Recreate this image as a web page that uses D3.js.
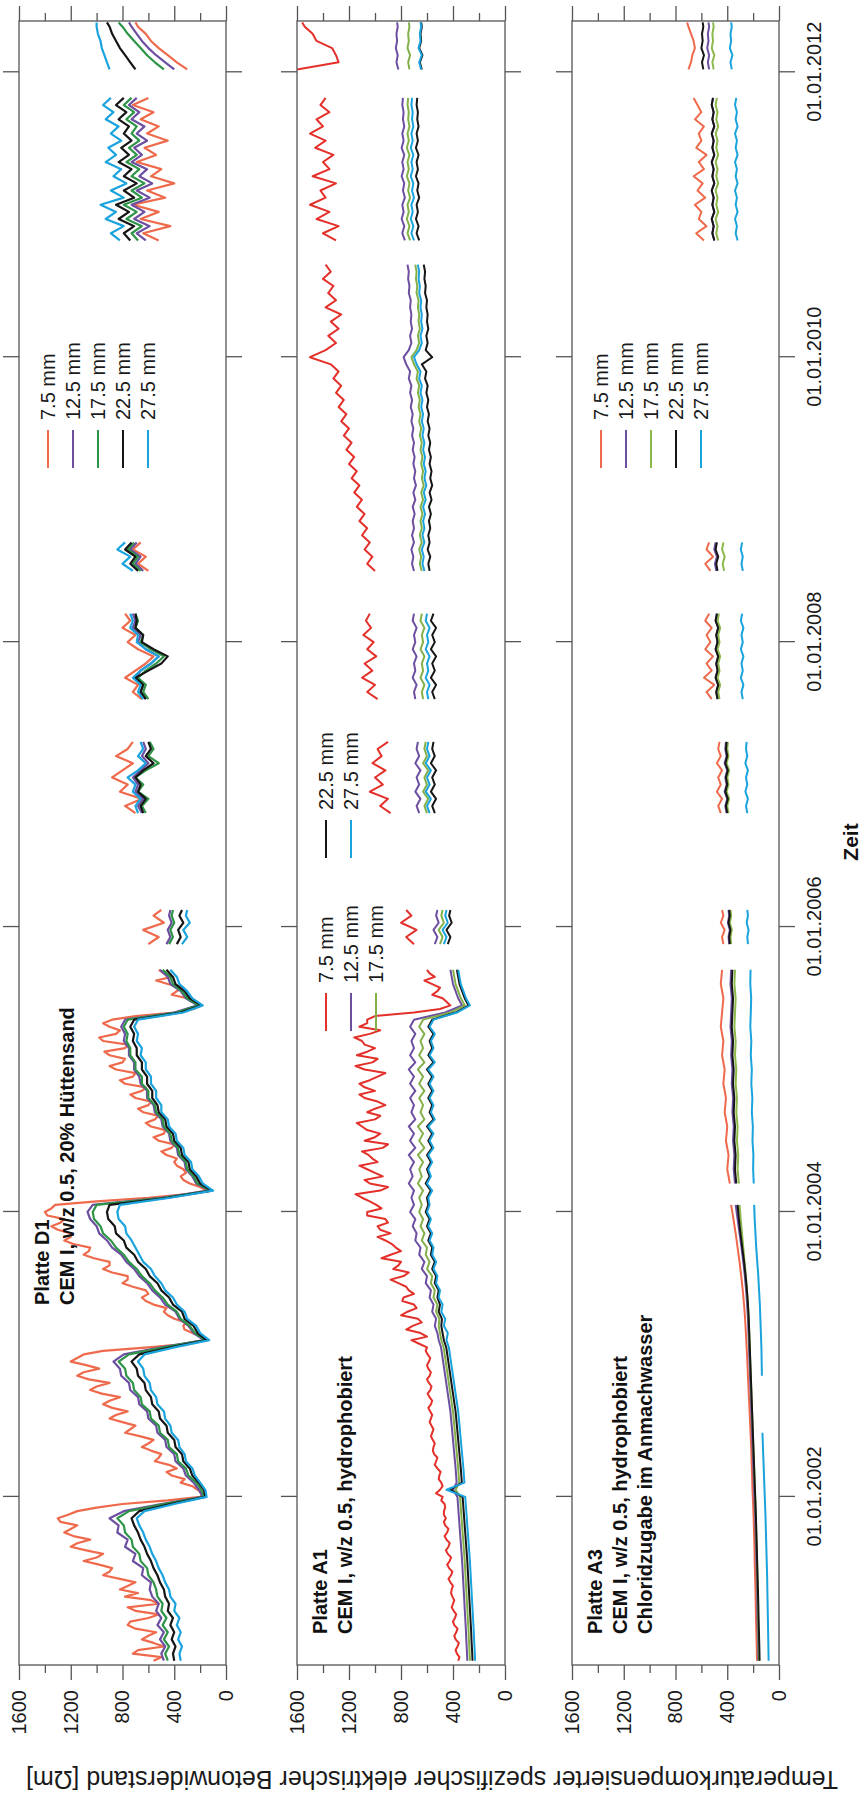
<!DOCTYPE html>
<html><head><meta charset="utf-8">
<script src="https://cdn.jsdelivr.net/npm/d3@7"></script>
<style>body{margin:0;background:#fff}svg text{font-family:Arial,"Liberation Sans",sans-serif}</style>
</head><body><svg id="c" width="862" height="1796"></svg>
<script>
// ---------- tick labels / categories ----------
const valueTicks = [0, 400, 800, 1200, 1600];
const valueMinor = [200, 600, 1000, 1400];
const dateTicks = [2002, 2004, 2006, 2008, 2010, 2012];
const seriesNames = ['7.5 mm', '12.5 mm', '17.5 mm', '22.5 mm', '27.5 mm'];

// ---------- time samples (decimal years) ----------
const T_A = [2000.85,2000.9,2000.95,2001,2001.05,2001.1,2001.15,2001.2,2001.25,2001.3,
2001.35,2001.4,2001.45,2001.5,2001.55,2001.6,2001.65,2001.7,2001.75,2001.8,
2001.85,2001.9,2001.95,2002,2002.05,2002.1,2002.15,2002.2,2002.25,2002.3,
2002.35,2002.4,2002.45,2002.5,2002.55,2002.6,2002.65,2002.7,2002.75,2002.8,
2002.85,2002.9,2002.95,2003,2003.05,2003.1,2003.15,2003.2,2003.25,2003.3,
2003.35,2003.4,2003.45,2003.5,2003.55,2003.6,2003.65,2003.7,2003.75,2003.8,
2003.85,2003.9,2003.95,2004,2004.05,2004.1,2004.15,2004.2,2004.25,2004.3,
2004.35,2004.4,2004.45,2004.5,2004.55,2004.6,2004.65,2004.7,2004.75,2004.8,
2004.85,2004.9,2004.95,2005,2005.05,2005.1,2005.15,2005.2,2005.25,2005.3,
2005.35,2005.4,2005.45,2005.5,2005.55,2005.6,2005.65,2005.7];
// denser sampling for the two noisiest (7.5 mm) records
const T_AD = [2000.85,2000.875,2000.9,2000.925,2000.95,2000.975,2001,2001.025,2001.05,2001.075,2001.1,2001.125,2001.15,2001.175,2001.2,2001.225,2001.25,2001.275,2001.3,2001.325,
2001.35,2001.375,2001.4,2001.425,2001.45,2001.475,2001.5,2001.525,2001.55,2001.575,2001.6,2001.625,2001.65,2001.675,2001.7,2001.725,2001.75,2001.775,2001.8,2001.825,
2001.85,2001.875,2001.9,2001.925,2001.95,2001.975,2002,2002.025,2002.05,2002.075,2002.1,2002.125,2002.15,2002.175,2002.2,2002.225,2002.25,2002.275,2002.3,2002.325,
2002.35,2002.375,2002.4,2002.425,2002.45,2002.475,2002.5,2002.525,2002.55,2002.575,2002.6,2002.625,2002.65,2002.675,2002.7,2002.725,2002.75,2002.775,2002.8,2002.825,
2002.85,2002.875,2002.9,2002.925,2002.95,2002.975,2003,2003.025,2003.05,2003.075,2003.1,2003.125,2003.15,2003.175,2003.2,2003.225,2003.25,2003.275,2003.3,2003.325,
2003.35,2003.375,2003.4,2003.425,2003.45,2003.475,2003.5,2003.525,2003.55,2003.575,2003.6,2003.625,2003.65,2003.675,2003.7,2003.725,2003.75,2003.775,2003.8,2003.825,
2003.85,2003.875,2003.9,2003.925,2003.95,2003.975,2004,2004.025,2004.05,2004.075,2004.1,2004.125,2004.15,2004.175,2004.2,2004.225,2004.25,2004.275,2004.3,2004.325,
2004.35,2004.375,2004.4,2004.425,2004.45,2004.475,2004.5,2004.525,2004.55,2004.575,2004.6,2004.625,2004.65,2004.675,2004.7,2004.725,2004.75,2004.775,2004.8,2004.825,
2004.85,2004.875,2004.9,2004.925,2004.95,2004.975,2005,2005.025,2005.05,2005.075,2005.1,2005.125,2005.15,2005.175,2005.2,2005.225,2005.25,2005.275,2005.3,2005.325,
2005.35,2005.375,2005.4,2005.425,2005.45,2005.475,2005.5,2005.525,2005.55,2005.575,2005.6,2005.625,2005.65,2005.675,2005.7];
const T_B = [2005.88,2005.93,2005.98,2006.03,2006.08,2006.12];
const T_C = [2006.8,2006.85,2006.9,2006.95,2007,2007.05,2007.1,2007.15,2007.2,2007.25,2007.3];
const T_D = [2007.6,2007.65,2007.7,2007.75,2007.8,2007.85,2007.9,2007.95,2008,2008.05,2008.1,2008.15,2008.2];
const T_E = [2008.5,2008.55,2008.6,2008.65,2008.7];
const T_E2 = [2008.5,2008.55,2008.6,2008.65,2008.7,2008.75,2008.8,2008.85,2008.9,2008.95,
2009,2009.05,2009.1,2009.15,2009.2,2009.25,2009.3,2009.35,2009.4,2009.45,
2009.5,2009.55,2009.6,2009.65,2009.7,2009.75,2009.8,2009.85,2009.9,2009.95,
2010,2010.05,2010.1,2010.15,2010.2,2010.25,2010.3,2010.35,2010.4,2010.45,
2010.5,2010.55,2010.6,2010.65];
const T_F = [2010.82,2010.87,2010.92,2010.97,2011.02,2011.07,2011.12,2011.17,2011.22,2011.27,
2011.32,2011.37,2011.42,2011.47,2011.52,2011.57,2011.62,2011.67,2011.72,2011.77,2011.82];
const T_G = [2012.02,2012.07,2012.12,2012.17,2012.22,2012.27,2012.32,2012.35];
const T3_A = [2000.85,2000.95,2001.05,2001.15,2001.25,2001.35,2001.45,2001.55,2001.65,2001.75,
2001.85,2001.95,2002.05,2002.15,2002.25,2002.35,2002.45,2002.55,2002.65,2002.75,
2002.85,2002.95,2003.05,2003.15,2003.25,2003.35,2003.45,2003.55,2003.65,2003.75,
2003.85,2003.95,2004.05];
const T3_A2 = [2004.2,2004.3,2004.4,2004.5,2004.6,2004.7,2004.8,2004.9,2005,2005.1,2005.2,2005.3,2005.4,2005.5,2005.6,2005.7];

// ---------- Platte D1 (Ωm), segments A..G ----------
const D1_75 = [
[560,500,720,680,480,560,650,600,540,700,760,740,600,520,700,760,520,580,780,680,
820,760,700,820,950,900,880,980,1100,1000,950,1080,1200,1150,1050,1180,1250,1200,1150,1280,
1300,1220,1150,1000,800,450,200,170,220,260,350,320,420,460,380,440,550,520,500,580,
650,600,560,660,780,740,700,800,900,850,760,880,950,900,820,960,1050,1000,900,1060,
1150,1100,980,1080,1200,1150,1100,950,600,300,150,190,260,320,330,310,400,450,480,460,
560,620,650,600,620,720,800,760,760,880,950,900,900,1020,1100,1060,1050,1180,1250,1200,
1200,1300,1350,1280,1250,1380,1400,1350,1320,1000,600,300,150,200,280,330,350,310,330,380,
400,380,460,500,420,400,520,560,480,470,580,620,550,520,640,680,600,580,700,740,
650,620,780,820,720,700,850,900,800,780,900,940,780,760,950,980,850,820,900,950,
880,700,400,250,200,260,300,420,380,330,450,540,420,480,520],
[600,520,640,480,560,500],
[700,780,650,820,760,880,800,720,850,760,720],
[650,720,680,780,700,620,560,680,760,700,800,740,780],
[600,680,620,720,660],
[520,640,430,660,520,720,470,610,400,580,500,690,540,630,450,610,520,660,560,720,600],
[300,380,450,520,580,620,680,700]];
const D1_125 = [
[480,500,470,510,480,530,500,540,520,570,
590,580,650,640,720,700,780,760,840,830,
900,790,500,180,210,250,310,330,390,400,
460,470,530,540,600,610,670,680,740,750,
810,820,870,790,500,170,250,290,360,390,
470,510,570,610,670,710,770,810,880,920,
980,1000,1050,1070,1030,500,130,230,260,310,
320,370,380,430,440,490,500,550,560,610,
610,660,670,710,710,750,750,790,780,810,
780,400,220,310,350,430,450,510],
[460,430,450,420,440,430],
[650,680,640,700,680,720,660,600,650,620,640],
[620,660,640,700,660,580,520,620,680,660,720,700,720],
[640,700,660,740,690],
[620,690,590,710,630,730,590,690,570,670,610,730,650,710,610,690,630,730,670,750,690],
[400,470,540,600,650,690,730,750]];
const D1_175 = [
[450,470,440,480,450,490,460,500,490,530,
540,560,600,610,660,670,720,730,780,790,
840,750,480,170,190,230,290,310,370,380,
440,450,510,520,580,590,650,660,710,720,
770,780,830,750,480,160,240,280,350,380,
450,490,550,590,650,690,750,790,850,890,
950,970,1020,1030,1000,480,120,220,250,300,
310,360,370,420,430,480,490,540,550,600,
600,650,650,700,700,740,740,770,760,790,
760,380,210,300,340,410,430,490],
[440,410,430,400,420,410],
[620,650,600,680,640,700,620,520,600,560,590],
[600,640,620,680,620,540,480,580,660,640,700,680,700],
[660,720,680,760,710],
[680,730,650,770,690,790,650,730,630,730,670,770,690,750,670,730,690,770,710,790,730],
[480,550,610,660,710,760,800,830]];
const D1_225 = [
[400,410,390,420,400,430,410,450,440,470,
480,510,530,560,580,610,630,660,680,710,
730,670,430,160,170,210,260,280,330,340,
390,400,450,460,510,520,570,580,620,630,
680,690,730,670,430,150,220,250,320,340,
410,440,500,530,590,620,680,710,770,790,
850,860,910,920,900,450,110,200,230,280,
290,340,350,400,410,460,470,520,530,570,
570,610,610,650,650,690,690,720,710,740,
710,350,190,280,320,390,410,460],
[380,350,370,330,360,340],
[640,660,620,680,660,700,640,560,620,580,600],
[620,660,640,700,600,500,450,560,650,640,700,690,700],
[680,740,700,780,730],
[740,790,710,830,750,850,710,790,690,790,730,830,750,810,730,790,750,830,770,850,790],
[700,740,780,820,850,880,900,920]];
const D1_275 = [
[350,360,340,370,350,380,360,400,390,430,
440,470,490,520,540,570,590,620,640,670,
690,630,400,150,160,200,240,260,310,320,
360,370,420,430,470,480,530,540,580,590,
630,640,680,630,400,130,200,230,300,320,
380,410,470,500,550,580,640,670,700,730,
770,780,830,840,820,430,100,180,210,260,
270,320,330,380,390,440,450,500,500,540,
540,580,580,620,620,660,650,690,680,710,
680,330,180,260,300,360,380,430],
[340,300,330,280,310,300],
[680,700,660,720,700,760,680,620,680,640,660],
[640,680,660,720,660,580,520,620,690,680,740,720,740],
[720,800,740,840,780],
[820,890,790,930,850,970,790,890,770,870,810,930,850,910,810,890,830,930,870,950,890],
[900,920,940,960,970,990,1000,1000]];

// ---------- Platte A1 ----------
const A1_75 = [
[360,350,370,380,365,355,380,390,375,365,390,400,385,375,395,410,400,390,405,415,
410,400,420,435,415,405,430,445,425,415,440,455,435,425,450,465,445,435,460,470,
455,470,470,460,465,490,480,530,500,480,490,510,505,495,520,540,530,520,545,555,
550,540,555,570,560,550,565,580,570,560,575,590,570,560,580,595,575,565,585,600,
580,570,590,600,585,575,595,610,600,660,720,600,650,760,710,640,670,800,750,680,
700,790,780,700,740,760,820,880,780,740,860,820,800,950,880,800,840,870,920,980,
880,960,980,900,920,1060,1060,950,990,1040,1100,1150,960,900,1040,1080,940,1000,1060,1120,
980,1020,1050,1100,940,900,1080,1000,960,1060,1100,1140,1000,960,1060,1000,920,980,1080,1120,
1000,1080,1120,1040,980,920,1080,1150,1020,980,1140,1060,1000,1080,1100,1160,1040,960,1120,1060,
1060,1000,700,500,420,450,480,560,520,500,560,620,540,580,600],
[700,760,680,800,720,760],
[880,960,900,1040,940,1000,920,1020,950,980,900],
[980,1060,1000,1100,1020,1080,990,1060,1010,1090,1030,1070,1040],
[1000,1060,1020,1080,1040,1100,1060,1120,1080,1140,
1100,1160,1120,1180,1140,1200,1160,1220,1180,1240,
1200,1260,1220,1280,1240,1300,1260,1320,1280,1340,
1500,1380,1300,1360,1280,1340,1260,1380,1300,1360,
1320,1400,1340,1380],
[1300,1400,1280,1450,1350,1500,1380,1420,1300,1480,1350,1400,1320,1460,1380,1500,1400,1450,1350,1420,1380],
[1600,1280,1300,1330,1450,1480,1540,1560]];
const A1_125 = [
[290,292,295,298,300,303,306,309,312,315,
318,321,324,327,330,334,338,342,346,350,
354,358,362,366,400,372,376,380,385,390,
395,400,405,410,415,420,428,436,444,452,
460,468,476,484,492,510,520,540,530,560,
550,580,570,610,600,640,620,660,650,690,
680,710,690,730,700,720,700,740,710,730,
700,740,690,730,700,740,690,720,700,730,
690,730,700,740,690,730,700,720,690,730,
700,460,330,360,380,400,410,420],
[540,520,550,510,530,520],
[660,680,650,690,660,680,650,690,660,680,670],
[690,700,680,710,690,700,680,710,690,700,680,710,700],
[700,715,705,720,700,715,700,710,695,710,
690,705,685,700,690,705,695,710,700,715,
705,720,710,725,715,730,720,740,730,760,
780,740,720,730,715,725,720,730,725,740,
735,745,740,750],
[770,790,775,795,780,790,770,785,775,795,780,790,775,795,780,790,775,785,780,790,785],
[820,835,825,840,830,835,825,830]];
const A1_175 = [
[270,272,275,278,280,283,286,289,292,295,
298,301,304,307,310,314,318,322,326,330,
334,338,342,346,380,352,356,360,365,370,
375,380,385,390,395,400,408,416,424,432,
440,448,456,464,472,490,500,510,505,530,
520,550,540,570,560,600,580,610,600,640,
620,650,630,660,640,660,630,670,640,660,
630,670,620,660,630,670,620,650,630,660,
620,660,630,670,620,660,630,650,620,660,
630,420,310,340,360,380,390,400],
[500,480,510,470,490,480],
[600,620,590,630,600,620,590,630,600,620,610],
[630,640,620,650,630,640,620,650,630,640,620,650,640],
[640,655,645,660,640,655,640,650,635,650,
630,645,625,640,630,645,635,650,640,655,
645,660,650,665,655,670,660,680,670,700,
720,680,660,670,655,665,660,670,665,680,
675,685,680,690],
[730,750,735,755,740,750,730,745,735,755,740,750,735,755,740,750,735,745,740,750,745],
[735,745,730,750,740,745,735,740]];
const A1_225 = [
[250,252,255,258,260,263,266,269,272,275,
278,281,284,287,290,294,298,302,306,310,
314,318,322,326,420,332,336,340,345,350,
355,360,365,370,375,380,388,396,404,412,
420,428,436,444,452,470,480,490,485,510,
500,520,510,540,530,560,540,570,560,590,
570,600,580,610,590,600,570,610,580,600,
570,600,560,590,560,600,550,580,560,590,
560,590,560,600,550,590,560,580,550,590,
560,380,280,310,330,350,360,370],
[440,420,450,410,430,420],
[540,560,530,570,540,560,530,570,540,560,550],
[540,560,530,570,540,560,530,570,540,560,530,570,550],
[580,590,575,595,580,590,575,585,570,585,
565,580,560,575,565,580,570,585,575,590,
580,595,585,600,590,605,595,615,605,640,
560,610,595,605,590,600,595,605,600,615,
610,620,615,625],
[660,680,665,685,670,680,660,675,665,685,670,680,665,685,670,680,665,675,670,680,675],
[640,655,635,660,645,650,640,645]];
const A1_275 = [
[230,232,235,238,240,243,246,249,252,255,
258,261,264,267,270,274,278,282,286,290,
294,298,302,306,450,312,316,320,325,330,
335,340,345,350,355,360,368,376,384,392,
400,408,416,424,432,450,440,470,460,490,
480,510,500,530,520,550,530,560,550,580,
560,590,570,600,580,590,560,600,570,590,
560,590,550,580,550,590,540,570,550,580,
550,580,550,590,540,580,550,570,540,580,
550,370,270,300,320,340,350,360],
[470,450,480,440,460,450],
[580,600,570,610,580,600,570,610,580,600,590],
[590,600,580,610,590,600,580,610,590,600,580,610,600],
[620,635,625,640,620,635,620,630,615,630,
610,625,605,620,610,625,615,630,620,635,
625,640,630,645,635,650,640,660,650,680,
700,660,640,650,635,645,640,650,645,660,
655,665,660,670],
[700,720,705,725,710,720,700,715,705,725,710,720,705,725,710,720,705,715,710,720,715],
[645,660,640,665,650,655,645,650]];

// ---------- Platte A3 ----------
const A3_75 = [
[170,172,175,178,180,182,185,188,190,193,196,200,205,208,212,215,220,225,230,235,240,245,250,256,262,270,280,292,305,320,335,352,370],
[380,400,390,410,400,420,410,430,420,440,430,450,440,430,450,440],
[430,440,420,450,430,440],
[450,470,440,480,450,470,440,480,450,470,460],
[520,560,500,580,520,560,510,570,530,560,520,570,540],
[530,570,510,560,540],
[580,640,560,620,600,650,570,630,590,660,580,620,560,640,600,620,580,650,600,630,660],
[700,680,670,650,660,680,700,710]];
const A3_125 = [
[160,162,164,166,168,170,172,175,178,181,184,188,192,196,200,204,208,212,216,220,224,228,232,236,240,246,254,264,276,290,305,320,335],
[340,350,345,355,350,360,355,365,360,370,365,375,370,365,375,370],
[385,390,380,395,385,390],
[405,415,400,420,405,415,400,420,405,415,410],
[475,485,470,490,475,485,470,490,475,485,470,490,480],
[485,495,480,500,490],
[500,515,505,520,500,515,505,520,500,515,505,520,500,515,505,520,500,515,505,520,510],
[540,550,540,555,545,550,540,545]];
const A3_175 = [
[155,157,159,161,163,165,167,170,173,176,179,182,186,190,194,198,202,206,210,214,218,222,226,230,234,240,248,256,266,276,286,296,305],
[310,320,315,325,320,330,325,335,330,340,335,345,340,335,345,340],
[370,375,365,380,370,375],
[390,400,385,405,390,400,385,405,390,400,395],
[460,470,455,475,460,470,455,475,460,470,455,475,465],
[425,435,420,440,430],
[470,485,475,490,470,485,475,490,470,485,475,490,470,485,475,490,470,485,475,490,480],
[505,515,500,520,510,515,505,510]];
const A3_225 = [
[150,152,155,158,160,163,166,169,172,175,178,182,186,190,194,198,202,206,210,214,218,222,226,230,234,240,248,258,270,284,298,310,320],
[330,340,335,345,340,350,345,355,350,360,355,365,360,355,365,360],
[380,385,375,390,380,385],
[400,410,395,415,400,410,395,415,400,410,405],
[475,485,470,490,475,485,470,490,475,485,470,490,480],
[475,485,470,490,480],
[500,515,505,520,500,515,505,520,500,515,505,520,500,515,505,520,500,515,505,520,510],
[585,595,580,600,590,595,585,590]];
const A3_275 = [
[80,82,84,86,88,90,92,95,98,101,104,108,112,116,120,124,128,null,null,null,132,134,136,140,144,148,154,160,168,176,182,188,192],
[195,200,198,205,202,210,206,214,210,218,214,222,218,215,222,220],
[240,245,235,250,240,245],
[245,255,240,260,245,255,240,260,245,255,250],
[280,290,275,295,280,290,275,295,280,290,275,295,285],
[280,290,280,295,285],
[320,335,325,340,320,335,325,340,320,335,325,340,320,335,325,340,320,335,325,340,330],
[365,375,360,380,370,375,365,370]];

// ---------- drawing ----------
const W = 1796;
const svg = d3.select('#c');
const g = svg.append('g').attr('transform', `translate(0,${W}) rotate(-90)`);
const X0 = 131, X1 = 1775;
const x = d3.scaleLinear().domain([2000.82, 2012.36]).range([X0, X1]);
const frameColor = '#555';

const panels = [
  {top: 19, bottom: 226,
   times: [T_A, T_B, T_C, T_D, T_E, T_F, T_G], times0: [T_AD, T_B, T_C, T_D, T_E, T_F, T_G],
   series: [D1_75, D1_125, D1_175, D1_225, D1_275], lw: 2.2,
   colors: ['#ef6a4c', '#6c4fa1', '#2e9447', '#151515', '#1ba3dd'],
   title: ['Platte D1', 'CEM I, w/z 0.5, 20% Hüttensand'], titleX: 491,
   legend: [{x: 1376, rows: [0, 1, 2, 3, 4]}]},
  {top: 297, bottom: 505,
   times: [T_A, T_B, T_C, T_D, T_E2, T_F, T_G], times0: [T_AD, T_B, T_C, T_D, T_E2, T_F, T_G],
   series: [A1_75, A1_125, A1_175, A1_225, A1_275], lw: 2,
   colors: ['#e4302a', '#6c4fa1', '#84b04a', '#151515', '#1ba3dd'],
   title: ['Platte A1', 'CEM I, w/z 0.5, hydrophobiert'], titleX: 162,
   legend: [{x: 813, rows: [0, 1, 2]}, {x: 986, rows: [3, 4]}]},
  {top: 572, bottom: 779,
   times: [T3_A, T3_A2, T_B, T_C, T_D, T_E, T_F, T_G], times0: [T3_A, T3_A2, T_B, T_C, T_D, T_E, T_F, T_G],
   series: [A3_75, A3_125, A3_175, A3_225, A3_275], lw: 2,
   colors: ['#ef6a4c', '#6c4fa1', '#8cb84c', '#151515', '#1ba3dd'],
   title: ['Platte A3', 'CEM I, w/z 0.5, hydrophobiert', 'Chloridzugabe im Anmachwasser'], titleX: 162,
   legend: [{x: 1376, rows: [0, 1, 2, 3, 4]}]}
];

function styleAxis(sel) {
  sel.select('.domain').remove();
  sel.selectAll('.tick line').attr('stroke', frameColor).attr('stroke-width', 1.3);
  sel.selectAll('.tick text').attr('fill', '#1a1a1a').style('font-size', '20px');
}

panels.forEach((p, pi) => {
  const y = d3.scaleLinear().domain([0, 1600]).range([p.bottom, p.top]);
  const clipId = 'clip' + pi;
  g.append('clipPath').attr('id', clipId).append('rect')
    .attr('x', X0).attr('y', p.top).attr('width', X1 - X0).attr('height', p.bottom - p.top);

  const line = d3.line().defined(d => d[1] != null).x(d => x(d[0])).y(d => y(d[1]));
  const dg = g.append('g').attr('clip-path', `url(#${clipId})`);
  p.series.forEach((ser, si) => {
    const tl = si === 0 ? p.times0 : p.times;
    ser.forEach((vals, k) => {
      const pts = tl[k].map((t, i) => [t, vals[i] === undefined ? null : vals[i]]);
      dg.append('path').attr('d', line(pts)).attr('fill', 'none')
        .attr('stroke', p.colors[si]).attr('stroke-width', p.lw).attr('stroke-linejoin', 'round');
    });
  });

  g.append('rect').attr('x', X0).attr('y', p.top).attr('width', X1 - X0).attr('height', p.bottom - p.top)
    .attr('fill', 'none').attr('stroke', frameColor).attr('stroke-width', 1.3);

  g.append('g').attr('transform', `translate(${X0},0)`)
    .call(d3.axisLeft(y).tickValues(valueTicks).tickSize(15).tickSizeOuter(0).tickPadding(10).tickFormat(d3.format('d')))
    .call(styleAxis);
  g.append('g').attr('transform', `translate(${X0},0)`)
    .call(d3.axisLeft(y).tickValues(valueMinor).tickSize(8).tickSizeOuter(0).tickFormat(''))
    .call(styleAxis);
  g.append('g').attr('transform', `translate(${X1},0)`)
    .call(d3.axisRight(y).tickValues(valueTicks).tickSize(15).tickSizeOuter(0).tickFormat(''))
    .call(styleAxis);
  g.append('g').attr('transform', `translate(${X1},0)`)
    .call(d3.axisRight(y).tickValues(valueMinor).tickSize(8).tickSizeOuter(0).tickFormat(''))
    .call(styleAxis);

  g.append('g').attr('transform', `translate(0,${p.top})`)
    .call(d3.axisTop(x).tickValues(dateTicks).tickSize(16).tickSizeOuter(0).tickFormat(''))
    .call(styleAxis);
  g.append('g').attr('transform', `translate(0,${p.bottom})`)
    .call(d3.axisBottom(x).tickValues(dateTicks).tickSize(16).tickSizeOuter(0).tickPadding(12)
      .tickFormat(pi === 2 ? (d => '01.01.' + d) : ''))
    .call(styleAxis);

  p.title.forEach((tx, i) => {
    g.append('text').attr('x', p.titleX).attr('y', p.top + 30 + i * 25)
      .attr('font-weight', 'bold').style('font-size', '20px').attr('fill', '#111').text(tx);
  });

  p.legend.forEach(col => {
    col.rows.forEach((si, r) => {
      const by = p.top + 36 + r * 25;
      g.append('line').attr('x1', col.x - 48).attr('x2', col.x - 10)
        .attr('y1', by - 7).attr('y2', by - 7)
        .attr('stroke', p.colors[si]).attr('stroke-width', 2);
      g.append('text').attr('x', col.x).attr('y', by).style('font-size', '20px')
        .attr('fill', '#1a1a1a').text(seriesNames[si]);
    });
  });
});

g.append('text').attr('x', 954).attr('y', 858).attr('text-anchor', 'middle')
  .attr('font-weight', 'bold').style('font-size', '21px').attr('fill', '#111').text('Zeit');
g.append('text').attr('transform', 'translate(25,432) rotate(-90)').attr('text-anchor', 'middle')
  .style('font-size', '25px').attr('fill', '#1a1a1a')
  .text('Temperaturkompensierter spezifischer elektrischer Betonwiderstand [Ωm]');
</script>
</body></html>
